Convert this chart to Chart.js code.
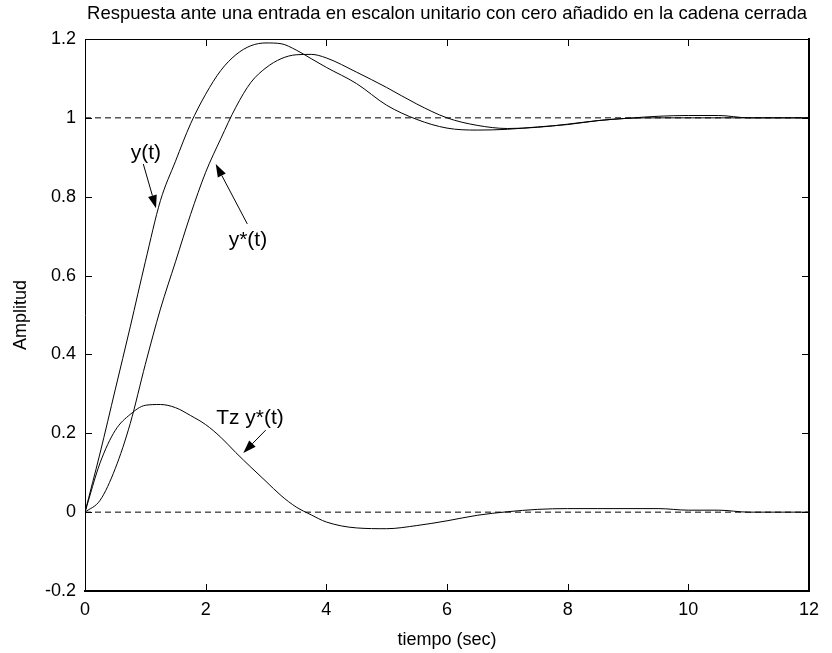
<!DOCTYPE html>
<html>
<head>
<meta charset="utf-8">
<script src="https://cdn.jsdelivr.net/npm/chart.js@4.4.1/dist/chart.umd.min.js"></script>
<style>
  html, body { margin: 0; padding: 0; background: #fff; }
  #wrap { width: 832px; height: 653px; }
</style>
</head>
<body>
<div id="wrap"><canvas id="stepChart" width="832" height="653"></canvas></div>
<script>
// step response data (time in seconds)
const tiempo = [0, 0.25, 0.5, 0.75, 1, 1.25, 1.5, 1.75, 2, 2.25, 2.5, 2.75, 3, 3.25, 3.5, 3.75, 4,
  4.5, 5, 5.5, 6, 6.5, 7, 7.5, 8, 8.5, 9, 9.5, 10, 10.5, 11, 11.5, 12];
const yT = [0, 0.15, 0.31, 0.47, 0.635, 0.79, 0.89, 0.985, 1.06, 1.12, 1.16, 1.183, 1.19, 1.188, 1.172, 1.15, 1.128,
  1.087, 1.032, 0.996, 0.974, 0.969, 0.971, 0.977, 0.983, 0.993, 0.999, 1.004, 1.006, 1.006, 1.0, 1.0, 1.0];
const yStar = [0, 0.03, 0.11, 0.225, 0.375, 0.515, 0.635, 0.755, 0.862, 0.947, 1.027, 1.09, 1.127, 1.15, 1.16, 1.161, 1.152,
  1.116, 1.077, 1.035, 1.0, 0.981, 0.973, 0.976, 0.984, 0.993, 0.999, 1.0, 1.0, 1.0, 1.0, 1.0, 1.0];
const tzYStar = [0, 0.125, 0.207, 0.248, 0.271, 0.273, 0.265, 0.245, 0.222, 0.19, 0.151, 0.114, 0.078, 0.042, 0.013, -0.007, -0.025,
  -0.04, -0.042, -0.034, -0.022, -0.008, 0.001, 0.007, 0.009, 0.009, 0.009, 0.009, 0.005, 0.005, 0.0, 0.0, 0.0];
const refLevels = [0, 1];
const xRange = [0, 12];
const yRange = [-0.2, 1.2];

// text labels with arrows, in data units
const notes = [
  { text: 'y(t)',     at: [1.01, 0.91],  tail: [0.966, 0.883], head: [1.177, 0.771] },
  { text: 'y*(t)',    at: [2.70, 0.689], tail: [2.69, 0.731],  head: [2.167, 0.883] },
  { text: 'Tz y*(t)', at: [2.735, 0.238], tail: [2.995, 0.208], head: [2.624, 0.150] }
];

const FONT = 'Liberation Sans, Arial, Helvetica, sans-serif';
const pts = (ys) => tiempo.map((t, i) => ({ x: t, y: ys[i] }));

function curve(ys) {
  return { data: pts(ys), borderColor: '#000', borderWidth: 1, pointRadius: 0,
    cubicInterpolationMode: 'monotone', fill: false };
}
function refLine(v) {
  return { data: [{ x: xRange[0], y: v }, { x: xRange[1], y: v }], borderColor: '#000',
    borderWidth: 1, borderDash: [6, 4], pointRadius: 0, fill: false };
}

// inward tick marks on all four sides, plus the arrow labels
const matlabAxes = {
  id: 'matlabAxes',
  afterDraw(chart) {
    const { ctx, chartArea: a, scales } = chart;
    const len = 7;
    ctx.save();
    ctx.strokeStyle = '#000';
    ctx.lineWidth = 1;
    ctx.beginPath();
    scales.x.ticks.forEach(tk => {
      const px = Math.round(scales.x.getPixelForValue(tk.value)) + 0.5;
      ctx.moveTo(px, a.bottom); ctx.lineTo(px, a.bottom - len);
      ctx.moveTo(px, a.top); ctx.lineTo(px, a.top + len);
    });
    scales.y.ticks.forEach(tk => {
      const py = Math.round(scales.y.getPixelForValue(tk.value)) + 0.5;
      ctx.moveTo(a.left, py); ctx.lineTo(a.left + len, py);
      ctx.moveTo(a.right, py); ctx.lineTo(a.right - len, py);
    });
    ctx.stroke();

    const X = v => scales.x.getPixelForValue(v);
    const Y = v => scales.y.getPixelForValue(v);
    ctx.fillStyle = '#000';
    ctx.font = '21px ' + FONT;
    ctx.textAlign = 'center';
    ctx.textBaseline = 'middle';
    notes.forEach(n => {
      ctx.fillText(n.text, X(n.at[0]), Y(n.at[1]));
      const x0 = X(n.tail[0]), y0 = Y(n.tail[1]);
      const x1 = X(n.head[0]), y1 = Y(n.head[1]);
      const ang = Math.atan2(y1 - y0, x1 - x0);
      const hl = 13, hw = 4.5;
      const bx = x1 - hl * Math.cos(ang), by = y1 - hl * Math.sin(ang);
      ctx.beginPath();
      ctx.moveTo(x0, y0); ctx.lineTo(bx, by);
      ctx.stroke();
      ctx.beginPath();
      ctx.moveTo(x1, y1);
      ctx.lineTo(bx + hw * Math.sin(ang), by - hw * Math.cos(ang));
      ctx.lineTo(bx - hw * Math.sin(ang), by + hw * Math.cos(ang));
      ctx.closePath();
      ctx.fill();
    });
    ctx.restore();
  }
};

const fixSize = (prop, v) => (scale) => { scale[prop] = v; };
const fmt = v => String(+v.toFixed(1));

new Chart(document.getElementById('stepChart').getContext('2d'), {
  type: 'line',
  data: {
    datasets: [curve(yT), curve(yStar), curve(tzYStar), ...refLevels.map(refLine)]
  },
  options: {
    responsive: false,
    animation: false,
    devicePixelRatio: 1,
    layout: { padding: 0 },
    plugins: { legend: { display: false }, tooltip: { enabled: false }, title: { display: false } },
    scales: {
      x: {
        type: 'linear', position: 'bottom', min: xRange[0], max: xRange[1],
        afterFit: fixSize('height', 62),
        grid: { display: false, drawTicks: false },
        border: { display: true, color: '#000', width: 2 },
        ticks: { stepSize: 2, color: '#000', padding: 8, maxRotation: 0, font: { family: FONT, size: 18 }, callback: fmt },
        title: { display: true, text: 'tiempo (sec)', color: '#000', padding: { top: 0, bottom: 2 }, font: { family: FONT, size: 18 } }
      },
      x2: {
        type: 'linear', position: 'top', min: xRange[0], max: xRange[1],
        afterFit: fixSize('height', 39),
        grid: { display: false, drawTicks: false },
        border: { display: true, color: '#000', width: 1 },
        ticks: { display: false },
        title: { display: true, text: 'Respuesta ante una entrada en escalon unitario con cero añadido en la cadena cerrada',
          color: '#000', padding: { top: 3, bottom: 0 }, font: { family: FONT, size: 18.5 } }
      },
      y: {
        type: 'linear', position: 'left', min: yRange[0], max: yRange[1],
        afterFit: fixSize('width', 85),
        grid: { display: false, drawTicks: false },
        border: { display: true, color: '#000', width: 1 },
        ticks: { stepSize: 0.2, color: '#000', padding: 9, font: { family: FONT, size: 18 }, callback: fmt },
        title: { display: true, text: 'Amplitud', color: '#000', padding: { top: 10, bottom: 0 }, font: { family: FONT, size: 18 } }
      },
      y2: {
        type: 'linear', position: 'right', min: yRange[0], max: yRange[1],
        afterFit: fixSize('width', 23),
        grid: { display: false, drawTicks: false },
        border: { display: true, color: '#000', width: 2 },
        ticks: { display: false }
      }
    }
  },
  plugins: [matlabAxes]
});
</script>
</body>
</html>
